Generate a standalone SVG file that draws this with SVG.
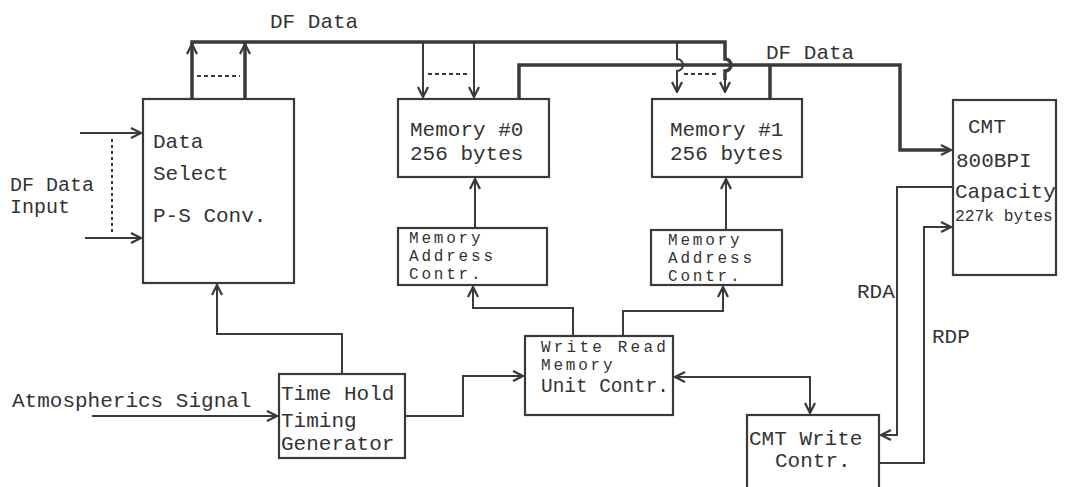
<svg xmlns="http://www.w3.org/2000/svg" width="1069" height="487" viewBox="0 0 1069 487">
<style>
.box{fill:none;stroke:#3a3a3a;stroke-width:2.2}
.ln{fill:none;stroke:#3a3a3a;stroke-width:2}
.bus{fill:none;stroke:#3a3a3a;stroke-width:3.5}
.dash{fill:none;stroke:#3a3a3a;stroke-width:2;stroke-dasharray:4 3}
text{font-family:"Liberation Mono","Courier New",monospace;font-size:21px;fill:#333}
.sm{font-size:16px;letter-spacing:2.8px}
.wr{letter-spacing:3.2px}
.lbl{font-size:20px}
.cap{font-size:16.3px}
</style>
<defs>
<marker id="ah" viewBox="0 0 12 12" refX="11" refY="6" markerWidth="12" markerHeight="12" orient="auto-start-reverse" markerUnits="userSpaceOnUse">
<path d="M1,1 L11,6 L1,11" fill="none" stroke="#3a3a3a" stroke-width="2.2"/>
</marker>
</defs>
<rect width="1069" height="487" fill="#fff"/>

<g id="connectors">
<path class="bus" d="M192,99 V42 H725 V59 a6,6 0 0 1 0,12 V80"/>
<path class="bus" d="M245,99 V42"/>
<path class="ln" d="M192,60 V44" marker-end="url(#ah)"/>
<path class="ln" d="M245,60 V44" marker-end="url(#ah)"/>
<path class="dash" d="M197,76 H240"/>
<path class="ln" d="M423,42 V97" marker-end="url(#ah)"/>
<path class="ln" d="M474,42 V97" marker-end="url(#ah)"/>
<path class="dash" d="M428,74 H469"/>
<path class="ln" d="M677,42 V59 a6,6 0 0 1 0,12 V92" marker-end="url(#ah)"/>
<path class="ln" d="M725,78 V92" marker-end="url(#ah)"/>
<path class="dash" d="M684,74 H718"/>
<path class="bus" d="M519,99 V65 H900 V150 H948"/>
<path class="bus" d="M770,99 V65"/>
<path class="ln" d="M930,150 H951" marker-end="url(#ah)"/>
<path class="ln" d="M80,133 H141" marker-end="url(#ah)"/>
<path class="ln" d="M85,238 H141" marker-end="url(#ah)"/>
<path class="ln" d="M112,139 V234" stroke-dasharray="3 3"/>
<path class="ln" d="M342,374 V334 H217 V285" marker-end="url(#ah)"/>
<path class="ln" d="M92,416 H277" marker-end="url(#ah)"/>
<path class="ln" d="M405,416 H463 V376 H523" marker-end="url(#ah)"/>
<path class="ln" d="M573,336 V308 H473 V287" marker-end="url(#ah)"/>
<path class="ln" d="M623,336 V311 H723 V287" marker-end="url(#ah)"/>
<path class="ln" d="M475,228 V179" marker-end="url(#ah)"/>
<path class="ln" d="M726,230 V179" marker-end="url(#ah)"/>
<path class="ln" d="M675,377 H810 V413" marker-start="url(#ah)" marker-end="url(#ah)"/>
<path class="ln" d="M953,187 H897 V435 H881" marker-end="url(#ah)"/>
<path class="ln" d="M879,463 H924 V227 H951" marker-end="url(#ah)"/>
</g>

<g id="labels">
<text x="270" y="28">DF Data</text>
<text x="766" y="59">DF Data</text>
<text class="lbl" x="10" y="191">DF Data</text>
<text class="lbl" x="10" y="213">Input</text>
<text x="12" y="407">Atmospherics Signal</text>
<text x="857" y="298">RDA</text>
<text x="932" y="343">RDP</text>
</g>

<g id="data-select">
<rect class="box" x="143" y="99" width="151" height="184"/>
<text x="153" y="148">Data</text>
<text x="153" y="180">Select</text>
<text x="153" y="222">P-S Conv.</text>
</g>

<g id="memory0">
<rect class="box" x="398" y="99" width="151" height="78"/>
<text x="410" y="136">Memory #0</text>
<text x="410" y="160">256 bytes</text>
</g>

<g id="memory1">
<rect class="box" x="652" y="99" width="150" height="78"/>
<text x="670" y="136">Memory #1</text>
<text x="670" y="160">256 bytes</text>
</g>

<g id="addr0">
<rect class="box" x="398" y="228" width="149" height="57"/>
<text class="sm" x="409" y="243">Memory</text>
<text class="sm" x="409" y="261">Address</text>
<text class="sm" x="409" y="279">Contr.</text>
</g>

<g id="addr1">
<rect class="box" x="651" y="230" width="131" height="55"/>
<text class="sm" x="668" y="245">Memory</text>
<text class="sm" x="668" y="263">Address</text>
<text class="sm" x="668" y="281">Contr.</text>
</g>

<g id="write-read">
<rect class="box" x="525" y="336" width="148" height="79"/>
<text class="sm wr" x="541" y="352">Write Read</text>
<text class="sm" x="541" y="370">Memory</text>
<text x="541" y="392" textLength="128" lengthAdjust="spacingAndGlyphs">Unit Contr.</text>
</g>

<g id="time-hold">
<rect class="box" x="279" y="374" width="126" height="84"/>
<text x="281" y="400">Time Hold</text>
<text x="281" y="427">Timing</text>
<text x="281" y="450">Generator</text>
</g>

<g id="cmt">
<rect class="box" x="953" y="100" width="103" height="175"/>
<text x="968" y="133">CMT</text>
<text x="956" y="167">800BPI</text>
<text x="955" y="198">Capacity</text>
<text class="cap" x="955" y="221">227k bytes</text>
</g>

<g id="cmt-write">
<rect class="box" x="747" y="415" width="132" height="80"/>
<text x="749" y="445">CMT Write</text>
<text x="775" y="467">Contr.</text>
</g>
</svg>
